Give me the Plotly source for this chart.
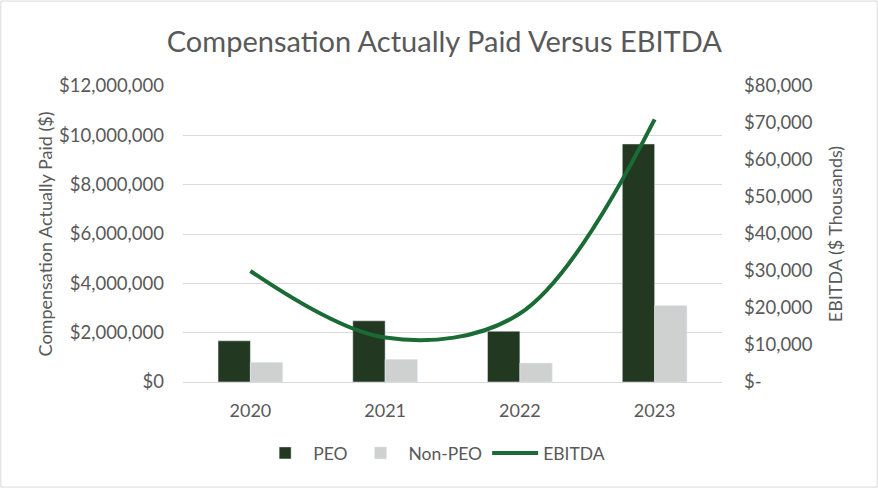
import plotly.graph_objects as go

years = ["2020", "2021", "2022", "2023"]
peo = [1670000, 2480000, 2060000, 9650000]
non_peo = [800000, 920000, 770000, 3100000]
ebitda = [30000, 12000, 18500, 71000]

left_ticks = [0, 2000000, 4000000, 6000000, 8000000, 10000000, 12000000]
left_text = ["$0", "$2,000,000", "$4,000,000", "$6,000,000", "$8,000,000", "$10,000,000", "$12,000,000"]
right_ticks = [0, 10000, 20000, 30000, 40000, 50000, 60000, 70000, 80000]
right_text = ["$-", "$10,000", "$20,000", "$30,000", "$40,000", "$50,000", "$60,000", "$70,000", "$80,000"]

FONT = "Lato"
GRAY = "#595959"

fig = go.Figure()
fig.add_trace(go.Bar(x=years, y=peo, name="PEO", marker_color="#233821"))
fig.add_trace(go.Bar(x=years, y=non_peo, name="Non-PEO", marker_color="#cfd1d0"))
fig.add_trace(go.Scatter(x=years, y=ebitda, name="EBITDA", mode="lines", yaxis="y2",
                         line=dict(color="#1a6b35", width=4, shape="spline", smoothing=1.0)))

fig.update_layout(
    width=878, height=488,
    margin=dict(l=183, r=156, t=86, b=106),
    paper_bgcolor="white", plot_bgcolor="white",
    font=dict(family=FONT, color=GRAY, size=18),
    title=dict(text="Compensation Actually Paid Versus EBITDA", x=0.506, xanchor="center",
               y=0.915, yanchor="middle", font=dict(size=29, color=GRAY, family=FONT)),
    barmode="group", bargap=0.52, bargroupgap=0,
    xaxis=dict(showgrid=False, showline=True, linecolor="#d9d9d9", ticks="",
               ticklabelstandoff=12, tickfont=dict(size=18, color=GRAY)),
    yaxis=dict(range=[0, 12000000], tickvals=left_ticks, ticktext=left_text,
               gridcolor="#d9d9d9", zeroline=False, tickfont=dict(size=18.5, color=GRAY),
               ticklabelstandoff=18,
               title=dict(text="Compensation Actually Paid ($)", font=dict(size=18, color=GRAY), standoff=1)),
    yaxis2=dict(range=[0, 80000], tickvals=right_ticks, ticktext=right_text, overlaying="y",
                side="right", showgrid=False, zeroline=False, tickfont=dict(size=18.5, color=GRAY),
                ticklabelstandoff=21,
                title=dict(text="EBITDA ($ Thousands)", font=dict(size=18, color=GRAY), standoff=17)),
    legend=dict(orientation="h", x=0.465, xanchor="center", y=-0.24, yanchor="middle",
                itemwidth=46, font=dict(size=17.5, color=GRAY), traceorder="normal"),
    shapes=[dict(type="rect", xref="paper", yref="paper", x0=-0.338, x1=1.288, y0=-0.355, y1=1.287,
                 line=dict(color="#d9d9d9", width=1), layer="below")],
)

fig.write_html("out.html", config={"displayModeBar": False},
               post_script="document.body.style.margin='0';document.body.style.overflow='hidden';")
